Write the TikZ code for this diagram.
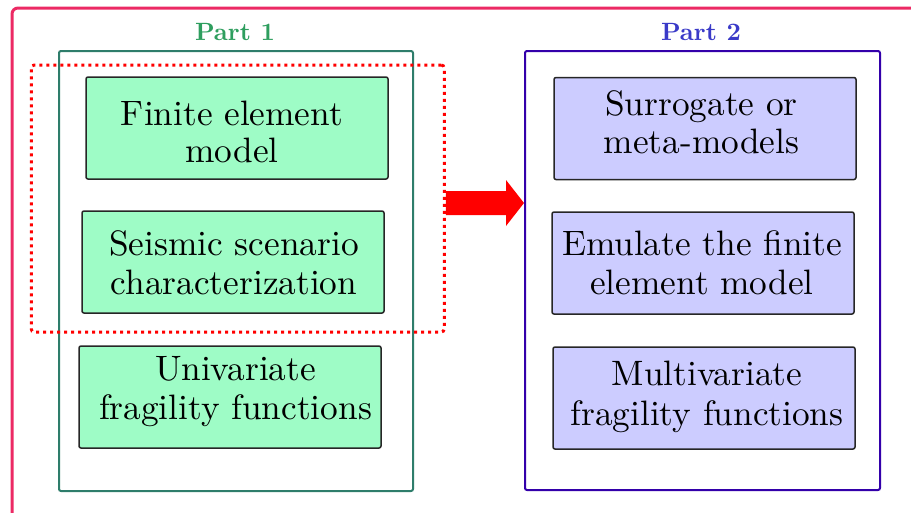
\documentclass[tikz,border=0pt]{standalone}
\usepackage{fontspec}
\setmainfont{lmroman10-regular.otf}[BoldFont=lmroman10-bold.otf]
\definecolor{framepink}{HTML}{EC2A64}
\definecolor{grnline}{HTML}{2E7D6B}
\definecolor{grntitle}{HTML}{2E9E5E}
\definecolor{grnfill}{HTML}{9EFCC6}
\definecolor{bluline}{HTML}{3300AA}
\definecolor{blutitle}{HTML}{3A3AC8}
\definecolor{blufill}{HTML}{CCCCFF}
\begin{document}
\begin{tikzpicture}[x=1pt,y=-1pt,
  container/.style={draw, line width=2pt, rounded corners=2pt, inner sep=0pt},
  stepbox/.style={draw=black!85, line width=1.5pt, rounded corners=2pt, minimum width=302pt, minimum height=102pt, inner sep=0pt},
  gbox/.style={stepbox, fill=grnfill},
  bbox/.style={stepbox, fill=blufill},
  boxtext/.style={inner sep=0pt, anchor=base, align=center, font=\fontsize{35.3}{39.2}\selectfont},
  tighttext/.style={boxtext, font=\fontsize{35.3}{37.5}\selectfont},
  ptitle/.style={font=\fontsize{25}{28}\selectfont\bfseries}]
\useasboundingbox (0,0) rectangle (911,512);
\clip (0,0) rectangle (911,512);
% outer frame
\draw[framepink, line width=3pt, rounded corners=6pt] (12,530) -- (12,8) -- (930,8);
% containers
\node[container, draw=grnline, minimum width=354pt, minimum height=440pt] (c1) at (236,271) {};
\node[container, draw=bluline, minimum width=355pt, minimum height=439pt] (c2) at (702.5,270.5) {};
\node[ptitle, text=grntitle] (t1) at (235,32) {Part 1};
\node[ptitle, text=blutitle] (t2) at (701,32) {Part 2};
% boxes
\node[gbox] (b1) at (237,128) {};
\node[gbox] (b2) at (233,262) {};
\node[gbox] (b3) at (230,397) {};
\node[bbox] (b4) at (705,128.5) {};
\node[bbox] (b5) at (703,263) {};
\node[bbox] (b6) at (704,398) {};
\node[tighttext] (l1) at (232,162.7) {Finite element\\model};
\node[boxtext] (l2) at (234,294.3) {Seismic scenario\\characterization};
\node[boxtext] (l3) at (235.5,419.3) {Univariate\\fragility functions};
\node[tighttext] (l4) at (701.5,153.3) {Surrogate or\\meta-models};
\node[boxtext] (l5) at (702,294.3) {Emulate the finite\\element model};
\node[boxtext] (l6) at (707,425) {Multivariate\\fragility functions};
% dotted group
\node[draw=red, line width=3pt, dash pattern=on 3pt off 4pt, rounded corners=3pt, minimum width=413pt, minimum height=267pt, inner sep=0pt] (grp) at (237.75,198.5) {};
% arrow
\coordinate (as) at (grp.east |- 0,203);
\coordinate (ae) at (c2.west |- 0,203);
\fill[red] ([yshift=-12pt]as) -- ([xshift=-18pt,yshift=-12pt]ae) -- ([xshift=-18pt,yshift=-23pt]ae) -- (ae) -- ([xshift=-18pt,yshift=23pt]ae) -- ([xshift=-18pt,yshift=12pt]ae) -- ([yshift=12pt]as) -- cycle;
\end{tikzpicture}
\end{document}
